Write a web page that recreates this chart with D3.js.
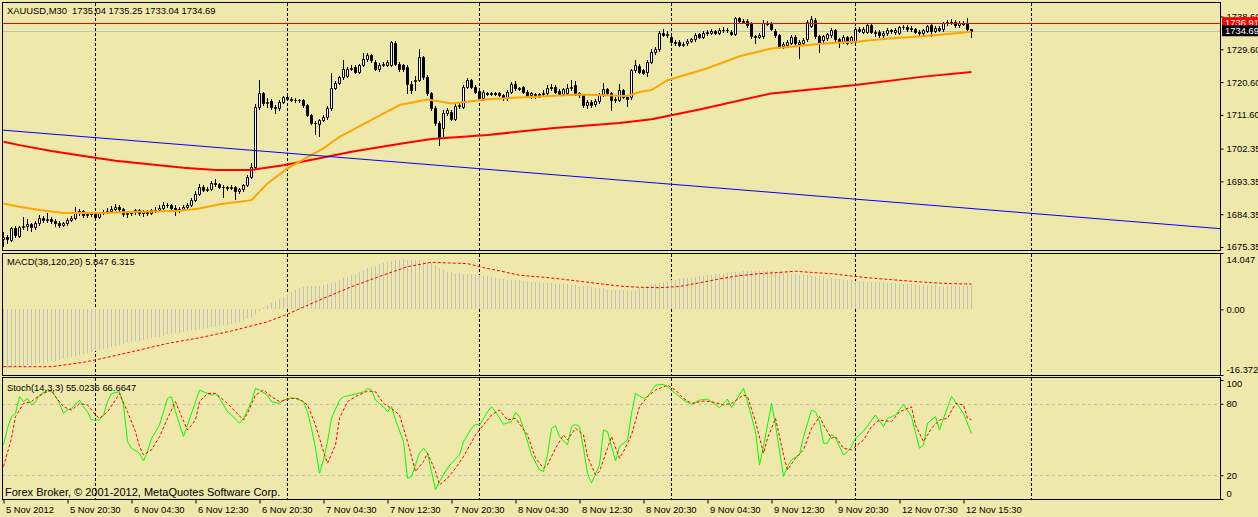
<!DOCTYPE html>
<html>
<head>
<meta charset="utf-8">
<script src="https://cdnjs.cloudflare.com/ajax/libs/d3/7.8.5/d3.min.js"></script>
<style>
  body { margin: 0; background: #EEE8AA; }
  svg text { font-family: "Liberation Sans", Arial, sans-serif; font-size: 9.4px; fill: #000; }
</style>
</head>
<body>
<div id="chart"></div>
<script>
"use strict";

// == DATA ==
var symbol = "XAUUSD,M30";

var barOpen = [
  1677.5,1678.0,1677.3,1680.5,1678.4,1680.8,1681.0,1681.6,1680.7,1682.0,
  1683.2,1682.8,1683.1,1682.4,1682.0,1681.5,1681.8,1682.8,1683.3,1684.7,
  1685.2,1684.0,1684.4,1684.3,1683.7,1684.6,1685.0,1685.3,1685.9,1686.3,
  1685.7,1684.3,1684.6,1684.9,1685.4,1684.7,1685.1,1684.6,1685.5,1685.6,
  1686.0,1686.9,1686.8,1686.0,1685.4,1685.8,1686.4,1686.9,1688.3,1690.0,
  1691.9,1691.0,1691.3,1693.0,1692.6,1691.7,1691.9,1691.6,1691.8,1690.6,
  1691.2,1692.3,1694.6,1697.4,1713.8,1717.5,1714.8,1715.5,1713.8,1713.4,
  1715.2,1716.4,1716.0,1715.8,1715.6,1715.7,1714.2,1711.6,1709.5,1709.0,
  1710.1,1711.0,1713.4,1719.1,1720.4,1721.9,1722.3,1724.3,1724.8,1723.5,
  1725.2,1726.8,1728.0,1726.2,1724.1,1725.3,1725.3,1725.3,1731.4,1725.7,
  1725.2,1724.8,1720.0,1720.9,1721.1,1727.4,1722.1,1717.5,1713.6,1709.5,
  1708.0,1712.0,1712.4,1710.6,1714.0,1713.8,1719.3,1721.1,1719.3,1718.2,
  1716.1,1717.6,1717.4,1717.6,1717.5,1717.0,1716.1,1717.9,1720.2,1718.9,
  1719.2,1718.0,1717.0,1717.3,1717.1,1717.2,1717.5,1718.9,1719.3,1718.2,
  1717.4,1717.5,1718.9,1719.8,1717.5,1717.0,1714.3,1715.2,1714.5,1715.3,
  1717.3,1718.6,1717.5,1715.7,1715.8,1718.4,1716.6,1716.4,1723.9,1725.0,
  1723.9,1723.4,1726.2,1728.9,1729.6,1734.1,1733.6,1733.0,1731.7,1731.7,
  1730.8,1731.2,1731.9,1732.3,1733.7,1733.0,1734.0,1734.2,1734.5,1734.2,
  1734.9,1734.9,1734.4,1733.8,1738.1,1737.5,1737.4,1736.7,1733.2,1733.0,
  1733.2,1736.7,1736.7,1734.7,1733.5,1730.5,1730.8,1731.4,1732.9,1731.0,
  1731.2,1732.3,1736.0,1737.6,1733.2,1732.1,1732.6,1733.5,1734.9,1732.3,
  1731.7,1732.9,1731.7,1731.7,1735.3,1734.4,1734.4,1736.2,1734.4,1734.4,
  1733.5,1734.0,1734.9,1734.3,1734.1,1735.6,1735.8,1735.1,1735.1,1734.4,
  1734.0,1734.7,1736.2,1734.7,1735.5,1735.1,1736.7,1737.2,1737.2,1736.2,
  1736.9,1736.7,1735.04
];
var barHigh = [
  1679.5,1678.6,1680.8,1681.0,1681.2,1683.5,1683.0,1682.0,1682.5,1684.0,
  1683.8,1684.6,1683.6,1682.9,1682.5,1682.3,1683.2,1683.9,1686.2,1685.8,
  1685.6,1685.0,1684.8,1684.7,1685.0,1685.4,1686.0,1686.5,1687.1,1686.8,
  1686.0,1685.2,1685.3,1685.8,1685.8,1685.5,1685.4,1685.9,1686.2,1686.9,
  1687.6,1687.5,1687.2,1687.0,1686.4,1687.0,1687.4,1688.9,1690.6,1692.5,
  1692.3,1691.9,1693.5,1694.1,1692.9,1692.3,1692.2,1692.4,1692.0,1691.6,
  1692.7,1695.0,1698.5,1714.5,1721.1,1718.0,1716.1,1716.0,1714.2,1715.6,
  1716.9,1717.0,1716.4,1716.1,1716.0,1716.0,1714.5,1711.9,1709.8,1710.5,
  1711.6,1714.0,1723.2,1721.0,1722.4,1726.6,1724.8,1725.3,1725.2,1725.7,
  1728.5,1728.6,1728.4,1726.6,1725.9,1726.2,1726.7,1732.0,1731.8,1726.0,
  1725.6,1725.2,1721.0,1722.3,1729.8,1727.8,1722.5,1717.9,1714.0,1710.0,
  1712.9,1713.6,1713.0,1714.8,1714.9,1719.8,1721.6,1721.5,1719.7,1718.6,
  1718.3,1717.9,1717.9,1717.8,1717.8,1717.3,1718.3,1720.7,1721.0,1719.3,
  1719.6,1718.4,1718.0,1717.6,1717.6,1718.4,1719.8,1720.2,1719.8,1718.6,
  1719.0,1720.2,1721.1,1721.0,1717.9,1717.4,1715.7,1715.6,1716.0,1717.5,
  1720.4,1719.0,1717.9,1716.6,1720.2,1718.8,1717.0,1724.3,1726.6,1725.5,
  1724.3,1726.6,1729.6,1730.3,1734.6,1735.1,1734.6,1733.5,1732.1,1732.1,
  1731.7,1732.3,1732.8,1734.0,1734.2,1734.6,1734.9,1735.3,1734.9,1735.4,
  1735.6,1735.4,1734.9,1738.5,1738.5,1737.9,1737.9,1737.1,1733.6,1734.1,
  1737.6,1737.4,1737.2,1735.1,1733.9,1731.5,1732.1,1733.4,1733.4,1732.1,
  1732.6,1737.6,1738.7,1738.1,1733.6,1733.6,1734.2,1735.4,1735.3,1732.7,
  1733.5,1733.3,1733.3,1735.8,1735.8,1735.8,1736.7,1736.7,1734.9,1734.9,
  1734.5,1735.4,1735.3,1735.4,1736.0,1736.2,1736.2,1736.0,1735.5,1734.8,
  1735.3,1736.4,1736.7,1735.9,1735.9,1737.1,1737.7,1737.9,1737.6,1737.4,
  1737.4,1738.1,1735.25
];
var barLow = [
  1675.6,1676.4,1677.0,1678.2,1678.1,1680.2,1680.0,1679.8,1680.3,1681.5,
  1682.2,1682.3,1681.8,1681.2,1680.9,1681.0,1681.4,1682.4,1683.0,1684.2,
  1683.6,1683.5,1683.8,1683.2,1683.4,1684.3,1684.8,1685.0,1685.6,1685.3,
  1683.8,1683.6,1684.2,1684.3,1684.2,1683.8,1684.1,1684.3,1685.0,1685.3,
  1685.6,1686.2,1685.6,1684.0,1685.0,1685.5,1685.9,1686.6,1688.0,1689.7,
  1690.6,1690.7,1691.0,1692.2,1691.4,1689.1,1691.0,1691.2,1688.5,1690.2,
  1690.8,1692.0,1694.3,1697.0,1713.3,1714.2,1713.9,1713.3,1712.2,1713.0,
  1714.8,1715.6,1715.3,1715.2,1715.2,1713.8,1711.2,1709.0,1706.3,1705.8,
  1709.8,1710.6,1713.0,1718.6,1720.0,1721.5,1721.9,1723.8,1723.0,1723.1,
  1724.9,1726.4,1726.2,1723.8,1723.6,1724.9,1724.9,1725.0,1725.3,1723.6,
  1723.6,1717.5,1717.6,1718.5,1720.8,1721.5,1717.1,1712.9,1708.8,1703.3,
  1705.8,1711.6,1710.2,1710.2,1713.6,1713.4,1718.9,1718.9,1717.5,1715.6,
  1715.7,1717.0,1717.1,1717.0,1716.7,1715.8,1715.7,1717.5,1718.5,1718.3,
  1717.6,1716.6,1716.3,1716.1,1716.4,1716.9,1717.1,1718.5,1717.5,1717.0,
  1717.0,1717.1,1718.5,1717.1,1716.6,1713.8,1713.6,1713.8,1714.1,1714.9,
  1716.9,1717.1,1712.9,1715.2,1715.3,1716.2,1714.0,1716.0,1723.5,1723.1,
  1722.7,1722.2,1725.8,1728.4,1729.2,1733.2,1733.1,1731.3,1730.9,1730.4,
  1730.4,1730.8,1731.5,1731.9,1732.6,1732.6,1733.6,1733.8,1733.8,1733.8,
  1734.4,1734.4,1733.4,1733.4,1737.1,1736.8,1735.8,1732.8,1731.2,1732.6,
  1732.8,1736.2,1734.9,1733.1,1729.9,1730.0,1730.4,1731.0,1730.8,1727.1,
  1730.8,1731.9,1735.6,1732.8,1728.9,1731.7,1732.2,1733.1,1731.9,1730.3,
  1731.3,1731.0,1731.3,1731.3,1734.3,1734.0,1734.0,1734.0,1733.2,1733.1,
  1733.1,1733.6,1734.1,1733.9,1733.7,1735.3,1734.7,1734.7,1734.0,1733.6,
  1733.6,1734.3,1733.2,1734.3,1734.6,1734.7,1736.3,1736.6,1735.8,1735.8,
  1736.2,1734.7,1733.04
];
var barClose = [
  1678.0,1677.6,1680.5,1678.5,1680.8,1681.0,1681.6,1680.7,1682.0,1683.2,
  1682.8,1683.1,1682.4,1682.0,1681.5,1681.8,1682.8,1683.3,1684.7,1685.2,
  1684.0,1684.4,1684.3,1683.7,1684.6,1685.0,1685.3,1685.9,1686.3,1685.7,
  1684.3,1684.6,1684.9,1685.4,1684.7,1685.1,1684.6,1685.5,1685.6,1686.0,
  1686.9,1686.8,1686.0,1685.4,1685.8,1686.4,1686.9,1688.3,1690.0,1691.9,
  1691.0,1691.3,1693.0,1692.6,1691.7,1691.9,1691.6,1691.8,1690.6,1691.2,
  1692.3,1694.6,1697.4,1713.8,1717.5,1714.8,1715.2,1713.8,1713.4,1715.2,
  1716.4,1716.0,1715.8,1715.6,1715.7,1714.2,1711.6,1709.5,1709.3,1710.1,
  1711.0,1713.5,1719.1,1720.4,1721.9,1724.1,1724.3,1724.6,1723.5,1725.2,
  1726.8,1728.0,1726.6,1724.1,1725.3,1725.7,1726.2,1731.7,1725.7,1724.1,
  1724.1,1720.0,1718.4,1721.1,1727.4,1721.9,1717.5,1713.4,1709.5,1705.4,
  1712.0,1712.9,1710.6,1714.0,1714.3,1719.3,1721.1,1719.3,1718.0,1716.1,
  1717.9,1717.4,1717.6,1717.3,1717.0,1716.1,1717.9,1720.2,1718.9,1718.8,
  1718.0,1717.0,1717.5,1717.1,1717.2,1717.6,1718.9,1719.3,1717.9,1717.4,
  1718.6,1718.9,1719.3,1717.5,1717.1,1714.3,1715.2,1714.4,1715.5,1717.0,
  1718.8,1717.5,1715.7,1716.0,1718.4,1716.6,1716.0,1723.9,1725.3,1723.5,
  1723.2,1726.2,1728.9,1729.8,1734.1,1733.6,1733.7,1731.7,1731.4,1730.8,
  1731.0,1731.9,1732.3,1733.5,1733.0,1734.1,1734.4,1734.6,1734.2,1734.9,
  1735.0,1734.8,1733.8,1738.1,1737.5,1737.2,1736.2,1733.2,1732.9,1733.6,
  1736.7,1736.6,1735.3,1733.5,1730.3,1731.0,1731.7,1732.9,1731.2,1731.6,
  1732.1,1737.2,1737.8,1733.2,1731.4,1733.2,1733.8,1734.9,1732.3,1731.7,
  1733.0,1731.4,1732.9,1735.3,1734.7,1735.3,1736.2,1734.4,1734.0,1733.5,
  1734.1,1734.9,1734.5,1735.0,1735.6,1735.8,1735.1,1735.5,1734.4,1734.0,
  1734.9,1736.0,1734.7,1735.5,1735.0,1736.7,1737.2,1737.0,1736.2,1736.9,
  1736.6,1735.1,1734.69
];

// moving averages (bar index, price)
var maFastIdx = [0,4,9,15,24,34,44,49,54,62,66,71,77,80,84,92,99,106,108,112,116,121,129,137,144,150,156,159,162,166,176,184,192,197,205,213,222,230,238,242];
var maFastVal = [1687.3,1686.4,1685.5,1684.7,1684.7,1685.0,1685.3,1685.9,1687.1,1688.2,1692.8,1696.9,1700.6,1702.4,1705.6,1710.2,1714.3,1715.8,1715.5,1714.7,1715.2,1715.9,1716.4,1716.8,1717.2,1717.0,1716.8,1717.9,1718.4,1721.1,1724.4,1727.7,1729.8,1730.3,1731.2,1731.7,1732.6,1733.2,1734.0,1734.4];
var maSlowIdx = [0,4,12,20,28,37,45,53,62,70,79,87,100,107,121,137,154,162,174,192,213,230,242];
var maSlowVal = [1704.2,1703.3,1701.7,1700.3,1699.0,1698.0,1697.1,1696.5,1696.5,1697.8,1699.7,1701.5,1703.8,1705.0,1706.1,1707.9,1709.4,1710.4,1713.1,1717.5,1719.8,1722.1,1723.4];

// trend line anchors (bar index, price), horizontal line and bid
var trendIdx = [0, 242];
var trendVal = [1707.4, 1685.9];
var hLinePrice = 1736.91;
var bidPrice = 1734.69;

// MACD(38,120,20): main per bar, signal sampled
var macdMain = [
  -14.7,-14.6,-14.5,-14.4,-14.3,-14.2,-14.0,-13.9,
  -13.7,-13.5,-13.3,-13.1,-12.9,-12.8,-12.6,-12.4,-12.2,
  -12.0,-11.7,-11.5,-11.2,-11.0,-10.7,-10.4,-10.1,
  -9.9,-9.6,-9.4,-9.2,-8.9,-8.7,-8.5,-8.2,
  -8.0,-7.8,-7.6,-7.4,-7.2,-7.0,-6.8,-6.6,-6.4,
  -6.2,-6.0,-5.8,-5.6,-5.4,-5.2,-5.1,-4.9,
  -4.8,-4.6,-4.5,-4.3,-4.2,-4.0,-3.9,-3.7,-3.5,
  -3.2,-2.9,-2.5,
  -2.0,-1.2,-0.5,0.3,1.0,1.5,2.0,2.6,3.2,3.8,4.4,4.9,5.3,5.6,
  5.8,5.9,5.9,5.9,6.0,6.2,6.5,
  6.9,7.3,7.7,8.1,8.5,8.9,9.3,9.8,10.2,
  10.5,10.9,11.2,11.5,11.8,12.0,12.3,
  12.4,12.5,12.4,12.4,12.3,12.2,12.1,
  11.9,11.5,10.9,10.2,9.7,9.3,
  9.2,9.1,9.0,8.9,8.8,8.7,8.6,8.5,8.4,
  8.2,8.0,7.8,7.6,7.5,7.4,7.3,7.3,7.2,
  7.1,7.0,6.9,6.8,6.7,6.6,6.6,6.5,6.4,6.3,
  6.2,6.2,6.1,6.0,5.9,5.8,5.7,5.5,
  5.4,5.3,5.2,5.1,4.9,4.8,4.8,4.7,4.7,4.65,
  4.9,5.3,5.6,5.9,6.1,6.4,6.6,
  6.8,7.0,7.2,7.4,7.6,7.7,7.8,7.9,8.1,8.2,
  8.3,8.5,8.6,8.8,8.9,9.0,9.1,9.2,9.2,9.3,9.5,9.56,
  9.6,9.6,9.55,9.55,9.5,9.5,9.4,9.2,
  9.1,9.0,8.9,8.8,8.6,8.5,8.45,8.4,
  8.3,8.2,8.0,7.9,7.8,7.6,7.5,7.3,7.2,
  7.2,7.1,7.1,7.0,6.9,6.9,6.8,6.7,
  6.7,6.6,6.5,6.5,6.4,6.4,6.3,6.3,6.2,6.15,
  6.1,6.1,6.0,6.0,5.9,5.9,5.8,5.8,5.8,5.7,5.7,5.8,5.85
];
var macdSigIdx = [0,12,20,24,32,41,49,57,66,71,78,87,95,101,107,116,120,124,129,134,139,144,149,154,159,164,169,174,179,184,189,194,198,202,207,212,217,222,227,232,237,242];
var macdSigVal = [-14.3,-14.3,-13.2,-12.4,-10.6,-8.5,-7.1,-5.4,-3.1,-1.2,1.9,5.65,8.56,10.65,11.73,11.4,10.4,9.6,8.5,8.1,7.6,7.0,6.4,5.8,5.5,5.4,5.7,6.6,7.6,8.4,8.9,9.2,9.5,9.2,8.9,8.3,7.8,7.4,7.0,6.65,6.4,6.3];

// Stochastic(14,3,3), sampled at turning points
var stochMainIdx = [0,1,2,3,4,5,6,7,8,9,11,12,13,14,15,16,17,19,20,21,22,24,25,26,27,29,30,31,32,34,35,36,37,39,40,41,42,43,45,46,48,49,50,52,53,54,56,57,59,60,62,63,64,66,67,69,70,72,73,75,76,77,78,79,80,81,82,84,85,87,90,91,92,93,95,96,97,98,100,101,102,104,105,106,107,108,109,111,112,114,115,117,118,119,121,122,123,125,127,128,129,130,132,134,135,136,137,138,139,141,142,143,144,145,146,147,149,150,151,153,154,156,157,158,160,161,163,165,166,168,170,172,174,176,179,181,182,185,186,188,189,190,192,193,195,196,197,199,200,202,203,204,205,206,207,208,210,211,212,213,215,218,220,221,223,225,227,229,230,231,233,234,235,237,238,240,242];
var stochMainVal = [45.4,59.4,69.2,72.0,86.0,81.8,84.6,79.0,81.8,87.3,91.5,90.1,86.0,80.3,72.0,74.7,76.1,83.1,77.5,73.3,66.4,66.4,70.6,81.8,88.7,90.1,79.0,48.2,42.6,38.5,32.0,39.9,51.0,62.2,73.3,84.6,86.0,73.3,52.4,62.2,81.8,91.5,90.1,87.3,88.7,84.6,73.3,70.6,63.6,67.8,81.8,93.0,91.5,87.3,81.8,80.3,83.1,85.0,84.6,81.8,73.3,59.4,42.6,21.7,32.9,48.2,67.8,83.1,86.0,87.3,90.1,93.0,91.5,83.1,77.5,73.3,77.5,66.4,48.2,17.5,18.9,38.5,42.6,38.5,23.1,7.8,14.7,25.9,30.1,37.1,48.2,59.4,62.8,62.2,73.3,77.5,73.3,62.8,65.0,72.8,69.2,59.4,37.1,24.5,23.1,37.1,59.4,61.6,52.4,45.4,60.8,62.8,60.8,42.6,21.7,13.4,28.7,58.0,56.6,32.0,44.0,49.6,71.9,88.7,84.6,86.0,95.7,96.3,94.3,88.7,83.1,79.4,83.1,84.0,76.7,84.0,76.7,93.0,81.8,56.6,28.7,44.0,80.3,62.2,18.9,27.3,32.9,37.1,52.4,74.7,73.3,65.0,46.8,46.8,54.3,51.0,37.1,39.9,44.0,51.0,57.1,70.6,60.8,67.8,70.6,79.4,69.2,42.6,45.4,63.6,69.2,58.0,67.8,86.0,81.8,71.9,55.0];
var stochSigIdx = [0,2,3,5,7,8,10,12,13,15,17,19,21,23,24,26,28,29,31,33,34,35,37,39,41,43,44,46,48,49,51,53,56,58,60,61,63,65,67,69,72,74,76,78,80,81,83,84,86,88,91,93,95,97,99,101,103,105,106,108,109,111,113,115,118,120,122,124,126,128,131,133,135,136,138,140,141,143,145,146,148,149,151,152,154,155,157,159,161,163,166,168,170,172,175,177,180,182,185,186,188,190,191,193,195,196,198,200,202,204,205,207,208,210,212,215,217,219,222,224,227,228,230,232,234,236,238,240,241,242];
var stochSigVal = [27.3,51.0,69.2,80.3,81.8,84.6,88.7,91.5,86.0,77.5,74.7,80.3,79.0,70.6,67.8,73.3,83.1,88.7,73.3,56.6,44.0,37.1,41.3,52.4,67.8,81.8,73.3,58.0,66.4,81.8,88.7,88.7,80.3,73.3,66.4,72.0,87.3,91.5,86.0,81.8,84.6,84.0,79.0,62.2,39.9,30.1,45.4,67.8,81.8,86.0,90.8,90.1,80.3,76.1,70.6,48.2,23.1,31.5,38.5,23.1,11.9,17.5,25.9,35.7,53.8,62.2,70.6,74.7,66.4,67.8,53.8,34.3,25.9,28.7,42.6,53.8,49.6,59.4,53.8,35.7,20.3,23.1,42.6,52.4,34.3,39.9,53.8,77.5,86.0,91.5,95.7,91.5,84.6,80.3,82.3,81.8,79.0,80.3,87.3,86.0,65.0,38.5,51.0,67.8,37.1,24.5,34.3,41.3,59.4,69.2,62.2,51.0,52.4,42.6,41.3,49.6,60.8,66.4,65.0,73.3,77.5,62.2,48.2,59.4,66.4,67.8,80.3,79.0,67.8,66.7];

// axes
var timeTickIdx = [0,16,32,48,64,80,96,112,128,144,160,176,192,208,224,240];
var timeTickLabels = ["5 Nov 2012","5 Nov 20:30","6 Nov 04:30","6 Nov 12:30","6 Nov 20:30","7 Nov 04:30","7 Nov 12:30","7 Nov 20:30","8 Nov 04:30","8 Nov 12:30","8 Nov 20:30","9 Nov 04:30","9 Nov 12:30","9 Nov 20:30","12 Nov 07:30","12 Nov 15:30"];
var separatorIdx = [23,71,119,167,213,257];
var priceTicks = [1738.60,1729.60,1720.60,1711.60,1702.35,1693.35,1684.35,1675.35];
var macdTicks = [14.047, 0, -16.372];
var macdTickLabels = ["14.047","0.00","-16.372"];
var stochTicks = [100, 80, 20, 0];
var stochLevels = [80, 20];

var macdTitle = "MACD(38,120,20) 5.847 6.315";
var stochTitle = "Stoch(14,3,3) 55.0236 66.6647";
var copyright = "Forex Broker, \u00A9 2001-2012, MetaQuotes Software Corp.";

// == BOILERPLATE ==
var width = 1258, height = 517;
var bg = "#EEE8AA";
var left = 2, right = 1220;
var pMain = { top: 2, bottom: 250 },
    pMacd = { top: 253, bottom: 375 },
    pStoch = { top: 377, bottom: 499 };

var svg = d3.select("#chart")
            .append("svg")
            .attr("width", width)
            .attr("height", height);

svg.append("rect").attr("width", width).attr("height", height).attr("fill", bg);

var x = d3.scaleLinear().domain([0, 242]).range([3.5, 971.5]);
var yPrice = d3.scaleLinear().domain([1674.52, 1742.58]).range([pMain.bottom, pMain.top]);
var yMacd = d3.scaleLinear().domain([-16.372, 14.047]).range([pMacd.bottom, pMacd.top]);
var yStoch = d3.scaleLinear().domain([0, 100]).range([pStoch.bottom, pStoch.top + 3]);

var defs = svg.append("defs");
function pane(name, p) {
  defs.append("clipPath").attr("id", "clip-" + name)
      .append("rect")
      .attr("x", left + 1).attr("y", p.top + 1)
      .attr("width", right - left - 1).attr("height", p.bottom - p.top - 1);
  return svg.append("g").attr("clip-path", "url(#clip-" + name + ")");
}
var gMain = pane("main", pMain),
    gMacd = pane("macd", pMacd),
    gStoch = pane("stoch", pStoch);

// period separators
[[gMain, pMain], [gMacd, pMacd], [gStoch, pStoch]].forEach(function (pp) {
  pp[0].selectAll("line.sep")
    .data(separatorIdx)
    .enter()
    .append("line")
    .attr("x1", function (d) { return x(d); })
    .attr("x2", function (d) { return x(d); })
    .attr("y1", pp[1].top + 1)
    .attr("y2", pp[1].bottom)
    .attr("stroke", "#000")
    .attr("stroke-dasharray", "3,2");
});

// bid line & horizontal line
function hline(g, yv, color) {
  var yy = Math.round(yv) + 0.5;
  g.append("line").attr("x1", left).attr("x2", right).attr("y1", yy).attr("y2", yy)
   .attr("stroke", color);
}
hline(gMain, yPrice(bidPrice), "#C0C0C0");

// == CANDLES ==
var idx = d3.range(barClose.length);
var candles = gMain.selectAll("g.candle").data(idx).enter().append("g");

candles.append("line")
  .attr("x1", function (i) { return x(i); })
  .attr("x2", function (i) { return x(i); })
  .attr("y1", function (i) { return Math.round(yPrice(barHigh[i])); })
  .attr("y2", function (i) { return Math.round(yPrice(barLow[i])) + 1; })
  .attr("stroke", "#000");

candles.append("path")
  .attr("d", function (i) {
    var top = Math.round(yPrice(Math.max(barOpen[i], barClose[i]))) + 0.5,
        bot = Math.round(yPrice(Math.min(barOpen[i], barClose[i]))) + 0.5,
        x0 = x(i) - 1;
    return "M" + x0 + "," + top + "h2V" + bot + "h-2Z";
  })
  .attr("fill", function (i) { return barClose[i] >= barOpen[i] ? "#FFFFFF" : "#000000"; })
  .attr("stroke", "#000");

// moving averages
var priceLine = d3.line()
  .x(function (d) { return x(d[0]); })
  .y(function (d) { return yPrice(d[1]); });

gMain.append("path").datum(d3.zip(maSlowIdx, maSlowVal))
  .attr("d", priceLine).attr("fill", "none").attr("stroke", "#FF0000").attr("stroke-width", 2);
gMain.append("path").datum(d3.zip(maFastIdx, maFastVal))
  .attr("d", priceLine).attr("fill", "none").attr("stroke", "#FFA500").attr("stroke-width", 2);

// trend line (ray across the pane)
var slope = (trendVal[1] - trendVal[0]) / (trendIdx[1] - trendIdx[0]);
var iL = x.invert(left), iR = x.invert(right);
gMain.append("path")
  .datum([[iL, trendVal[0] + slope * (iL - trendIdx[0])], [iR, trendVal[0] + slope * (iR - trendIdx[0])]])
  .attr("d", priceLine).attr("fill", "none").attr("stroke", "#0000FF").attr("stroke-width", 1);

hline(gMain, yPrice(hLinePrice), "#FF0000");

// == MACD ==
var zero = yMacd(0);
gMacd.selectAll("line.hist")
  .data(idx)
  .enter()
  .append("line")
  .attr("x1", function (i) { return x(i); })
  .attr("x2", function (i) { return x(i); })
  .attr("y1", Math.round(zero))
  .attr("y2", function (i) { return Math.round(yMacd(macdMain[i])); })
  .attr("stroke", "#C0C0C0");

gMacd.append("path")
  .datum(d3.zip(macdSigIdx, macdSigVal))
  .attr("d", d3.line().x(function (d) { return x(d[0]); }).y(function (d) { return yMacd(d[1]); }))
  .attr("fill", "none").attr("stroke", "#FF0000").attr("stroke-dasharray", "3,2");

// == STOCHASTIC ==
gStoch.selectAll("line.lvl")
  .data(stochLevels)
  .enter()
  .append("line")
  .attr("x1", left).attr("x2", right)
  .attr("y1", function (d) { return Math.round(yStoch(d)) + 0.5; })
  .attr("y2", function (d) { return Math.round(yStoch(d)) + 0.5; })
  .attr("stroke", "#C0C0C0")
  .attr("stroke-dasharray", "3,3");

var stochLine = d3.line().x(function (d) { return x(d[0]); }).y(function (d) { return yStoch(d[1]); });
gStoch.append("path").datum(d3.zip(stochMainIdx, stochMainVal))
  .attr("d", stochLine).attr("fill", "none").attr("stroke", "#00FF00");
gStoch.append("path").datum(d3.zip(stochSigIdx, stochSigVal))
  .attr("d", stochLine).attr("fill", "none").attr("stroke", "#FF0000").attr("stroke-dasharray", "3,2");

// == FRAMES ==
[pMain, pMacd, pStoch].forEach(function (p) {
  svg.append("rect")
    .attr("x", left + 0.5).attr("y", p.top + 0.5)
    .attr("width", right - left).attr("height", p.bottom - p.top)
    .attr("fill", "none").attr("stroke", "#000");
});

// == AXES ==
function styleAxis(g) {
  g.select(".domain").remove();
  g.selectAll("line").attr("stroke", "#000");
  g.selectAll("text").attr("fill", "#000").attr("font-size", null).attr("font-family", null);
}

var priceAxis = d3.axisRight(yPrice).tickValues(priceTicks)
  .tickFormat(d3.format(".2f")).tickSize(3).tickPadding(3);
svg.append("g").attr("transform", "translate(" + (right + 0.5) + ",0)")
  .call(priceAxis).call(styleAxis);

var macdAxis = d3.axisRight(yMacd).tickValues(macdTicks)
  .tickFormat(function (d, i) { return macdTickLabels[i]; }).tickSize(3).tickPadding(3);
var gMacdAxis = svg.append("g").attr("transform", "translate(" + (right + 0.5) + ",0)")
  .call(macdAxis).call(styleAxis);

var stochAxis = d3.axisRight(yStoch).tickValues(stochTicks).tickSize(3).tickPadding(3);
var gStochAxis = svg.append("g").attr("transform", "translate(" + (right + 0.5) + ",0)")
  .call(stochAxis).call(styleAxis);

// keep the extreme labels of indicator panes inside the pane
function clampLabels(g, scale, p) {
  g.selectAll(".tick").each(function (d) {
    var yy = scale(d), t = d3.select(this).select("text");
    if (yy - 6 < p.top) t.attr("dy", (0.32 * 9.4 + (p.top + 6.5 - yy)) + "px");
    if (yy + 6 > p.bottom) t.attr("dy", (0.32 * 9.4 - (yy - p.bottom + 6)) + "px");
  });
}
clampLabels(gMacdAxis, yMacd, pMacd);
clampLabels(gStochAxis, yStoch, pStoch);

var timeAxis = d3.axisBottom(x).tickValues(timeTickIdx)
  .tickFormat(function (d, i) { return timeTickLabels[i]; }).tickSize(4).tickPadding(3);
svg.append("g").attr("transform", "translate(0," + (pStoch.bottom + 0.5) + ")")
  .call(timeAxis).call(styleAxis)
  .selectAll("text").attr("text-anchor", "start").attr("x", 2);

// price labels for horizontal line and bid
function priceTag(price, color) {
  var yy = yPrice(price);
  svg.append("rect").attr("x", right + 2).attr("y", yy - 5.5)
     .attr("width", width - right - 2).attr("height", 11).attr("fill", color);
  svg.append("text").attr("x", right + 5).attr("y", yy).attr("dy", "0.35em")
     .style("fill", "#FFFFFF").text(price.toFixed(2));
}
priceTag(hLinePrice, "#FF0000");
priceTag(bidPrice, "#000000");

// == TITLES ==
var last = barClose.length - 1;
svg.append("text").attr("x", 7).attr("y", 11).attr("dy", "0.35em")
   .style("white-space", "pre")
   .text(symbol + "  " + [barOpen[last], barHigh[last], barLow[last], barClose[last]]
     .map(function (v) { return v.toFixed(2); }).join(" "));
svg.append("text").attr("x", 7).attr("y", 262).attr("dy", "0.35em").text(macdTitle);
svg.append("text").attr("x", 7).attr("y", 388).attr("dy", "0.35em").text(stochTitle);
svg.append("text").attr("x", 5).attr("y", 492).attr("dy", "0.35em")
   .style("font-size", "11px").text(copyright);
</script>
</body>
</html>
